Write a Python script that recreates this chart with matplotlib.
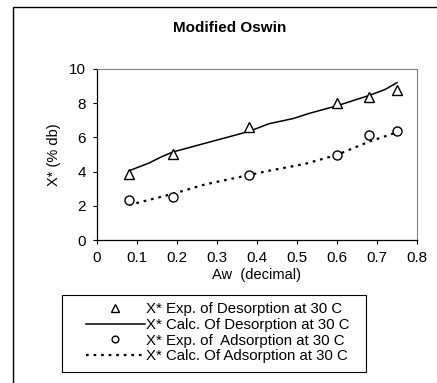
import matplotlib
matplotlib.use("Agg")
import matplotlib.pyplot as plt
from matplotlib.patches import Rectangle

plt.rcParams['font.family'] = ['Liberation Sans', 'DejaVu Sans']

# experimental points
aw_exp = [0.08, 0.19, 0.38, 0.60, 0.68, 0.75]
des_exp = [3.85, 5.03, 6.58, 8.04, 8.37, 8.76]
ads_exp = [2.33, 2.52, 3.79, 5.00, 6.13, 6.37]

# calculated (model) curves
aw_des_calc = [0.08, 0.13, 0.16, 0.19, 0.38, 0.43, 0.49, 0.53, 0.60, 0.68, 0.72, 0.75]
des_calc = [4.05, 4.50, 4.85, 5.15, 6.35, 6.80, 7.10, 7.40, 7.85, 8.45, 8.80, 9.20]
aw_ads_calc = [0.08, 0.19, 0.27, 0.38, 0.43, 0.52, 0.60, 0.68, 0.75]
ads_calc = [2.05, 2.70, 3.25, 3.80, 4.05, 4.45, 4.98, 5.75, 6.30]

W, H = 437, 383
fig = plt.figure(figsize=(W / 100, H / 100), dpi=100)

# outer chart border (cropped on right / bottom)
fig.patches.append(Rectangle((13 / W, -0.1), 1.2, 1 - 7 / H + 0.1, transform=fig.transFigure,
                             fill=False, edgecolor='black', linewidth=1.0))
# legend box
fig.patches.append(Rectangle((62 / W, 1 - 372 / H), (366 - 62) / W, (372 - 295) / H,
                             transform=fig.transFigure, fill=False, edgecolor='black', linewidth=0.8))

ax = fig.add_axes([97 / W, 1 - 240 / H, (417 - 97) / W, (240 - 69) / H])

ax.plot(aw_exp, des_exp, linestyle='none', marker='^', markersize=7, markerfacecolor='white',
        markeredgecolor='black', markeredgewidth=1.0, label='X* Exp. of Desorption at 30 C', zorder=3)
ax.plot(aw_des_calc, des_calc, color='black', linewidth=1.1, label='X* Calc. Of Desorption at 30 C')
ax.plot(aw_exp, ads_exp, linestyle='none', marker='o', markersize=6.5, markerfacecolor='white',
        markeredgecolor='black', markeredgewidth=1.0, label='X* Exp. of  Adsorption at 30 C', zorder=3)
ax.plot(aw_ads_calc, ads_calc, color='black', linewidth=1.6, linestyle=(0, (1.2, 2.2)),
        label='X* Calc. Of Adsorption at 30 C')

ax.set_xlim(0, 0.8)
ax.set_ylim(0, 10)
ax.set_xticks([0, 0.1, 0.2, 0.3, 0.4, 0.5, 0.6, 0.7, 0.8])
ax.set_xticklabels(['0', '0.1', '0.2', '0.3', '0.4', '0.5', '0.6', '0.7', '0.8'])
ax.set_yticks([0, 2, 4, 6, 8, 10])
ax.tick_params(labelsize=11, length=3, width=0.8, direction='out', pad=5)
ax.spines['top'].set_color('#808080')
ax.spines['right'].set_color('#808080')
for s in ['left', 'bottom']:
    ax.spines[s].set_linewidth(0.9)

ax.set_xlabel('Aw  (decimal)', fontsize=10.5, labelpad=2)
ax.set_ylabel('X* (% db)', fontsize=10.5, labelpad=6)

fig.text(230 / W, 1 - 28 / H, 'Modified Oswin', ha='center', va='center', fontsize=11, fontweight='bold')

leg = fig.legend(loc='upper left', bbox_to_anchor=(86 / W, 1 - 302 / H), fontsize=10.8,
                 frameon=False, handlelength=3.9, handletextpad=0.1, borderpad=0,
                 labelspacing=0.12, markerscale=0.75, borderaxespad=0)

fig.savefig('out.png', dpi=100)
